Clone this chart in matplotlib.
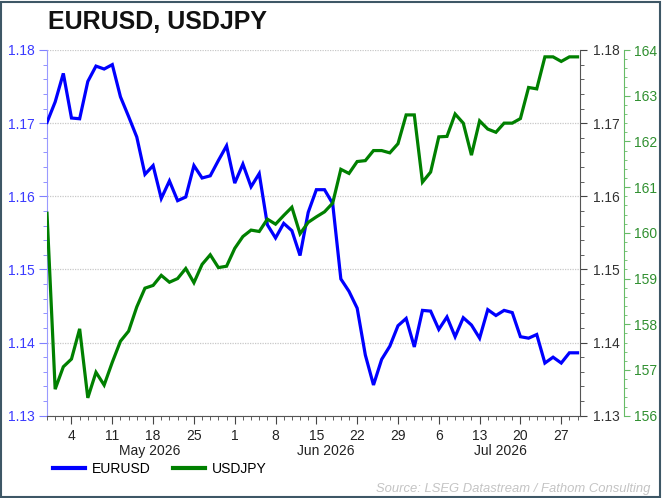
import matplotlib
matplotlib.use("Agg")
import matplotlib.pyplot as plt
import numpy as np
import pandas as pd
from matplotlib.lines import Line2D
from matplotlib.patches import Rectangle

plt.rcParams['font.family'] = ['Liberation Sans', 'DejaVu Sans']

# ---- data ----
dates = pd.bdate_range("2026-04-29", "2026-07-29")
eurusd = [1.1701, 1.1729, 1.1768, 1.1707, 1.1706, 1.1757, 1.1778, 1.1774, 1.1780, 1.1736,
          1.1709, 1.1681, 1.1630, 1.1642, 1.1597, 1.1621, 1.1594, 1.1599, 1.1642, 1.1625,
          1.1628, 1.1649, 1.1669, 1.1618, 1.1644, 1.1613, 1.1631, 1.1561, 1.1543, 1.1563,
          1.1553, 1.1519, 1.1578, 1.1609, 1.1609, 1.1590, 1.1487, 1.1470, 1.1447, 1.1383,
          1.1342, 1.1377, 1.1395, 1.1423, 1.1433, 1.1394, 1.1444, 1.1443, 1.1418, 1.1435,
          1.1408, 1.1434, 1.1424, 1.1406, 1.1445, 1.1437, 1.1444, 1.1441, 1.1408, 1.1406,
          1.1411, 1.1372, 1.1380, 1.1372, 1.1386, 1.1386]
usdjpy = [160.43, 156.58, 157.07, 157.24, 157.90, 156.39, 156.95, 156.67, 157.17, 157.63,
          157.85, 158.38, 158.79, 158.85, 159.07, 158.92, 159.00, 159.22, 158.91, 159.31,
          159.52, 159.24, 159.27, 159.66, 159.92, 160.06, 160.03, 160.30, 160.19, 160.38,
          160.56, 159.98, 160.23, 160.35, 160.46, 160.65, 161.39, 161.30, 161.56, 161.58,
          161.80, 161.80, 161.75, 161.95, 162.58, 162.58, 161.11, 161.33, 162.10, 162.11,
          162.60, 162.40, 161.70, 162.45, 162.27, 162.20, 162.40, 162.40, 162.50, 163.18,
          163.15, 163.85, 163.85, 163.75, 163.85, 163.85]
title = "EURUSD, USDJPY"
source = "Source: LSEG Datastream / Fathom Consulting"

x = np.arange(len(dates))

W, H = 662, 498
fig = plt.figure(figsize=(W / 100, H / 100), dpi=100)
fig.patch.set_facecolor("white")

L, R, T, B = 47, 580, 50, 415.7
ax = fig.add_axes([L / W, 1 - B / H, (R - L) / W, (B - T) / H])

blue_lbl = "#3a3aff"
grey_lbl = "#333333"
green_lbl = "#2f8f2f"

# main (left) axis: EURUSD
ax.set_ylim(1.13, 1.18)
ax.set_xlim(0, len(x) - 1 + 0.3)
ax.set_yticks(np.arange(1.13, 1.1801, 0.01))
ax.set_yticks(np.arange(1.13, 1.1801, 0.002), minor=True)
ax.set_yticklabels([f"{v:.2f}" for v in np.arange(1.13, 1.1801, 0.01)])
ax.grid(axis="y", which="major", linestyle=(0, (1, 1)), color="#c8c8c8", linewidth=0.9)
ax.set_axisbelow(True)
for s in ["top", "right"]:
    ax.spines[s].set_visible(False)
ax.spines["left"].set_color("#9a9aff")
ax.spines["bottom"].set_color("#555555")
ax.tick_params(axis="y", which="major", length=6, color="#8080ff", labelcolor=blue_lbl,
               labelsize=10, pad=3)
ax.tick_params(axis="y", which="minor", length=3, color="#8080ff")

# x ticks: Mondays major, each business day minor
mondays = [i for i, d in enumerate(dates) if d.weekday() == 0]
ax.set_xticks(mondays)
ax.set_xticklabels([str(dates[i].day) for i in mondays])
ax.set_xticks(x, minor=True)
ax.tick_params(axis="x", which="major", length=6, color="#444444", labelsize=10,
               labelcolor="#222222", pad=3.5)
ax.tick_params(axis="x", which="minor", length=3, color="#444444")

# month labels
months = pd.Series(x, index=dates).groupby(dates.to_period("M"))
for per, idx in months:
    if per.month == 4:
        continue
    mid = (idx.iloc[0] + idx.iloc[-1]) / 2 + 0.6
    ax.text(mid, -0.096, per.strftime("%b %Y"), transform=ax.get_xaxis_transform(),
            ha="center", va="center", fontsize=10, color="#222222")

ax.plot(x, eurusd, color="#0000ff", linewidth=2.3, zorder=3, solid_joinstyle="miter")

# right grey axis (EURUSD again)
ax2 = ax.twinx()
ax2.set_ylim(1.13, 1.18)
ax2.set_yticks(np.arange(1.13, 1.1801, 0.01))
ax2.set_yticks(np.arange(1.13, 1.1801, 0.002), minor=True)
ax2.set_yticklabels([f"{v:.2f}" for v in np.arange(1.13, 1.1801, 0.01)])
for s in ["top", "left", "bottom"]:
    ax2.spines[s].set_visible(False)
ax2.spines["right"].set_color("#555555")
ax2.tick_params(axis="y", which="major", length=5, color="#444444", labelcolor=grey_lbl,
                labelsize=10, pad=4)
ax2.tick_params(axis="y", which="minor", length=3, color="#444444")

# outer green axis (USDJPY)
ax3 = ax.twinx()
ax3.set_ylim(156, 164)
ax3.spines["right"].set_position(("outward", 44 * 0.72))
for s in ["top", "left", "bottom"]:
    ax3.spines[s].set_visible(False)
ax3.spines["right"].set_color("#66bb66")
ax3.set_yticks(np.arange(156, 164.01, 1))
ax3.set_yticks(np.arange(156, 164.01, 0.2), minor=True)
ax3.set_yticklabels([str(int(v)) for v in np.arange(156, 164.01, 1)])
ax3.tick_params(axis="y", which="major", length=4, color="#66bb66", labelcolor=green_lbl,
                labelsize=10, pad=3)
ax3.tick_params(axis="y", which="minor", length=2.5, color="#66bb66")
ax3.plot(x, usdjpy, color="#008000", linewidth=2.3, zorder=3, solid_joinstyle="miter")

# title
fig.text(48 / W, 1 - 22 / H, title, fontsize=18, fontweight="bold", ha="left", va="center",
         color="#111111")

# legend
handles = [Line2D([], [], color="#0000ff", linewidth=3),
           Line2D([], [], color="#008000", linewidth=3)]
fig.legend(handles, ["EURUSD", "USDJPY"], loc="center left",
           bbox_to_anchor=(53 / W, 1 - 469 / H), ncol=2, frameon=False, fontsize=10,
           handlelength=2.3, handletextpad=0.5, columnspacing=1.6, borderaxespad=0,
           borderpad=0)

# source
fig.text(650 / W, 1 - 489 / H, source, fontsize=9.4, style="italic", color="#c4c4c4",
         ha="right", va="center")

# border
fig.patches.append(Rectangle((1 / W, 1 / H), (W - 3) / W, (H - 3) / H, transform=fig.transFigure,
                             fill=False, edgecolor="#3e5766", linewidth=1.5))

fig.savefig("out.png", dpi=100)
